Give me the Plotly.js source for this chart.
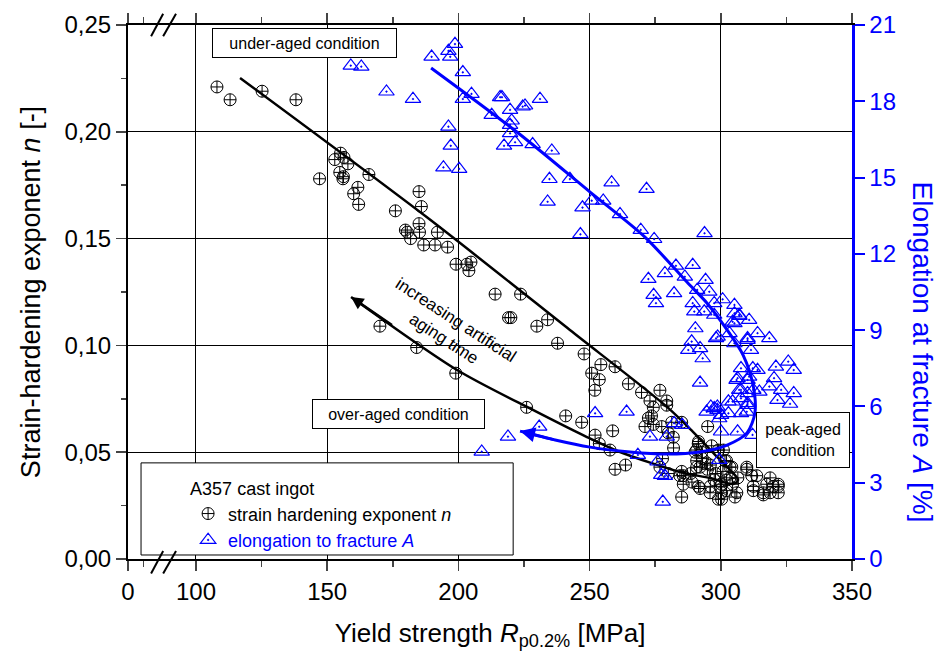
<!DOCTYPE html>
<html><head><meta charset="utf-8">
<script src="https://cdn.plot.ly/plotly-3.0.1.min.js"></script>
<style>html,body{margin:0;padding:0;background:#fff}#chart{width:943px;height:662px}</style>
</head><body><div id="chart"></div>
<script>
// strain hardening exponent n vs yield strength
const nX=[108.0,113.0,125.2,138.1,147.1,155.1,152.9,156.4,157.9,154.8,156.0,156.2,165.9,161.7,160.1,162.0,176.0,185.0,185.9,185.0,179.8,180.5,181.8,185.2,186.8,191.1,195.9,192.0,199.1,203.2,204.8,204.0,214.0,223.7,219.1,220.0,229.9,234.0,237.8,247.9,254.3,259.7,250.8,253.7,252.0,170.1,184.1,199.0,226.0,240.9,247.0,252.1,253.7,258.8,257.8,259.7,264.8,269.8,276.8,273.0,274.3,279.4,273.6,272.4,271.1,274.3,277.5,280.0,282.0,277.8,276.8,280.0,285.1,285.7,285.7,285.1,263.7,281.9,291.4,295.0,292.7,290.8,292.1,295.9,294.9,279.4,281.3,285.1,291.5,290.8,290.8,294.6,292.1,284.4,300.3,300.3,300.3,302.2,303.5,304.2,302.2,301.0,299.1,296.5,306.1,309.9,311.8,312.4,313.7,316.2,318.8,320.0,321.9,321.9,318.8,290.2,291.5,296.0,299.8,299.1,305.4,302.2,303.5,301.6,309.9,312.4,317.5,321.9,316.2,298.0,304.5,297.5,306.5,300.8,288.5,289.0,293.0,296.0];
const nY=[0.221,0.215,0.219,0.215,0.178,0.190,0.187,0.188,0.185,0.181,0.178,0.179,0.180,0.174,0.171,0.166,0.163,0.172,0.165,0.157,0.154,0.153,0.150,0.153,0.147,0.147,0.146,0.153,0.138,0.138,0.139,0.135,0.124,0.124,0.113,0.113,0.109,0.112,0.101,0.096,0.091,0.090,0.087,0.084,0.079,0.109,0.099,0.087,0.071,0.067,0.064,0.058,0.054,0.060,0.051,0.042,0.082,0.078,0.079,0.074,0.071,0.074,0.067,0.066,0.062,0.063,0.062,0.059,0.052,0.047,0.043,0.040,0.041,0.039,0.035,0.029,0.044,0.057,0.054,0.062,0.050,0.043,0.033,0.031,0.042,0.072,0.064,0.064,0.055,0.051,0.046,0.045,0.043,0.039,0.035,0.031,0.028,0.032,0.038,0.043,0.046,0.051,0.051,0.053,0.031,0.043,0.039,0.032,0.039,0.031,0.038,0.034,0.034,0.031,0.031,0.050,0.034,0.034,0.034,0.028,0.029,0.037,0.043,0.046,0.042,0.034,0.035,0.035,0.030,0.040,0.035,0.037,0.038,0.041,0.040,0.036,0.047,0.044];
// elongation at fracture A vs yield strength
const aX=[159.0,163.0,172.6,182.7,189.8,196.2,198.7,196.9,201.7,205.0,201.7,215.9,216.6,225.4,224.5,231.1,219.7,212.7,219.7,220.3,219.7,217.4,221.6,228.3,235.6,196.2,197.1,194.3,200.3,234.7,242.5,234.0,247.3,250.8,255.2,258.4,271.7,261.6,246.5,269.5,274.6,272.4,278.7,282.9,289.3,286.3,293.8,294.2,291.0,282.2,295.6,274.4,275.3,289.3,300.7,305.2,289.9,293.7,297.5,297.5,307.0,310.8,305.2,290.3,298.8,303.3,310.2,314.0,318.5,288.9,287.6,292.1,293.1,311.5,307.7,310.8,306.4,314.0,321.0,325.7,327.8,320.3,318.5,323.0,327.8,321.6,326.4,292.1,307.7,310.2,314.7,304.5,296.2,298.7,310.2,304.5,305.2,307.1,298.2,310.2,305.2,307.0,312.4,298.7,294.6,302.9,309.9,306.0,310.2,302.9,307.7,310.2,297.5,300.1,307.7,264.1,282.2,285.3,273.0,279.4,300.1,306.4,312.1,299.4,268.4,277.3,277.9,252.1,230.8,218.9,208.9,275.9,278.7,299.4,312.2];
const aY=[19.40,19.36,18.38,18.09,19.75,19.98,20.25,19.75,19.14,18.29,18.09,18.16,18.16,17.83,17.79,18.09,17.66,17.46,17.07,17.24,16.74,16.25,16.39,16.31,16.06,17.00,16.25,15.40,15.34,14.94,14.94,14.05,13.82,14.09,14.09,14.81,14.55,13.56,12.77,12.94,12.58,11.01,11.24,11.53,11.56,11.10,12.81,10.97,10.58,10.45,10.51,10.38,10.06,10.06,10.21,9.99,9.73,9.73,10.06,9.60,9.60,9.40,9.27,9.07,8.74,8.88,8.68,8.88,8.68,8.55,8.22,8.29,7.89,8.22,7.50,7.17,7.11,7.43,7.56,7.76,7.43,7.11,6.78,6.65,6.52,6.25,6.10,6.93,6.65,6.52,6.58,6.19,5.99,5.99,6.06,9.33,9.66,9.56,8.68,8.61,8.48,6.65,6.65,5.86,5.79,5.73,5.79,7.04,7.04,6.19,6.32,6.13,5.93,5.66,5.73,5.79,5.34,5.27,4.81,4.81,5.01,5.01,4.88,3.89,4.09,3.30,2.25,5.73,5.20,4.81,4.22,3.83,3.26,5.53,7.50];
// trend curves
const fitNx=[116.8,188.4,242.5,279.5,289.4,298.6,304.3,306.6,304.7,295.9,284.5,261.6,249.0,228.4,199.5,159.1];
const fitNy=[0.2252,0.1596,0.1072,0.0712,0.0595,0.0478,0.0407,0.0370,0.0351,0.0379,0.0407,0.0501,0.0571,0.0698,0.0885,0.1227];
const fitAx=[189.6,222.3,250.2,271.1,287.1,294.7,302.4,308.5,312.3,313.0,310.0,302.4,292.1,279.5,265.4,250.2,236.9,223.5];
const fitAy=[19.31,16.79,14.43,12.66,10.89,10.07,9.01,8.02,6.84,5.74,4.96,4.48,4.21,4.13,4.21,4.40,4.68,5.03];
// ticks
const xTickVals=[74.1,100,150,200,250,300,350];
const xTickText=['0','100','150','200','250','300','350'];
const xMinorVals=[80,125,175,225,275,325];
const xRange=[74.1,350];
const nRange=[0,0.25];
const aRange=[0,21];

const FONT='"Liberation Sans", Arial, sans-serif';
const BLUE='#0000ff';

const traces=[
 {x:nX,y:nY,type:'scatter',mode:'markers',name:'strain hardening exponent <i>n</i>',
  marker:{symbol:'circle-cross-open',size:12,color:'#000',line:{width:1,color:'#000'}}},
 {x:aX,y:aY,yaxis:'y2',type:'scatter',mode:'markers',name:'<span style="color:#0000ff">elongation to fracture <i>A</i></span>',
  marker:{symbol:'triangle-up-open-dot',size:13.5,color:BLUE,line:{width:1.2,color:BLUE}}},
 {x:fitNx,y:fitNy,type:'scatter',mode:'lines',showlegend:false,line:{color:'#000',width:2.5,shape:'spline',smoothing:0.8}},
 {x:fitAx,y:fitAy,yaxis:'y2',type:'scatter',mode:'lines',showlegend:false,line:{color:BLUE,width:3,shape:'spline',smoothing:0.8}}
];

const nL=fitNx.length, aL=fitAx.length;
const breakLines=[];
[[82.9,87.5],[87.5,92.4]].forEach(function(s){
  breakLines.push({type:'line',xref:'x',yref:'paper',x0:s[0],x1:s[1],y0:0.979,y1:1.021,line:{color:'#000',width:2}});
  breakLines.push({type:'line',xref:'x',yref:'paper',x0:s[0],x1:s[1],y0:-0.027,y1:0.015,line:{color:'#000',width:2}});
});

const layout={
 width:943,height:662,
 margin:{l:128,r:91,t:25,b:103,pad:0},
 paper_bgcolor:'#fff',plot_bgcolor:'#fff',
 font:{family:FONT,color:'#000',size:18},
 separators:',.',
 showlegend:true,
 legend:{x:0.083,y:0.163,xanchor:'left',yanchor:'top',bgcolor:'rgba(0,0,0,0)',borderwidth:0,
   font:{size:18,family:FONT},title:{text:'A357 cast ingot',font:{size:18,family:FONT}},tracegroupgap:0,itemsizing:'trace'},
 xaxis:{range:xRange,tickmode:'array',tickvals:xTickVals,ticktext:xTickText,ticks:'outside',ticklen:10,tickwidth:1.5,
   showline:true,linewidth:2,linecolor:'#000',mirror:'ticks',showgrid:true,gridcolor:'#000',gridwidth:1,zeroline:false,
   tickfont:{size:24},
   minor:{tickmode:'array',tickvals:xMinorVals,ticks:'outside',ticklen:6,tickwidth:1.5,showgrid:false},
   title:{text:'Yield strength <i>R</i><sub>p0.2%</sub> [MPa]',font:{size:26},standoff:20}},
 yaxis:{range:nRange,tickmode:'linear',tick0:0,dtick:0.05,tickformat:'.2f',ticks:'outside',ticklen:10,tickwidth:1.5,
   showline:true,linewidth:2,linecolor:'#000',mirror:false,showgrid:true,gridcolor:'#000',gridwidth:1,zeroline:false,
   tickfont:{size:24},
   minor:{dtick:0.025,ticks:'outside',ticklen:5,tickwidth:1.5,showgrid:false},
   title:{text:'Strain-hardening exponent <i>n</i> [-]',font:{size:27},standoff:16}},
 yaxis2:{range:aRange,overlaying:'y',side:'right',tickmode:'linear',tick0:0,dtick:3,ticks:'outside',ticklen:10,tickwidth:2,
   tickcolor:BLUE,showline:true,linewidth:2.5,linecolor:BLUE,showgrid:false,zeroline:false,
   tickfont:{size:24,color:BLUE}},
 shapes:[
   {type:'rect',xref:'paper',yref:'paper',x0:0.018,x1:0.532,y0:0.0075,y1:0.18,fillcolor:'#fff',line:{color:'#000',width:1},layer:'above'}
 ].concat(breakLines),
 annotations:[
   {xref:'x',yref:'y',x:141.5,y:0.2416,text:'under-aged condition',showarrow:false,bgcolor:'#fff',bordercolor:'#000',borderwidth:1,width:181,height:26,font:{size:16}},
   {xref:'x',yref:'y',x:177.2,y:0.0679,text:'over-aged condition',showarrow:false,bgcolor:'#fff',bordercolor:'#000',borderwidth:1,width:169,height:26,font:{size:16}},
   {xref:'x',yref:'y',x:331.3,y:0.0557,text:'peak-aged<br>condition',showarrow:false,bgcolor:'#fff',bordercolor:'#000',borderwidth:1,width:90,height:52,font:{size:16}},
   {xref:'x',yref:'y',x:196.8,y:0.1075,text:'increasing artificial<br>aging time',showarrow:false,textangle:33,font:{size:17}},
   {xref:'x',yref:'y',axref:'x',ayref:'y',x:fitNx[nL-1],y:fitNy[nL-1],ax:fitNx[nL-2]+(fitNx[nL-1]-fitNx[nL-2])*0.6,ay:fitNy[nL-2]+(fitNy[nL-1]-fitNy[nL-2])*0.6,
    text:'',showarrow:true,arrowhead:2,arrowsize:1,arrowwidth:2.5,arrowcolor:'#000',standoff:0,startstandoff:0},
   {xref:'x',yref:'y2',axref:'x',ayref:'y2',x:fitAx[aL-1],y:fitAy[aL-1],ax:fitAx[aL-2],ay:fitAy[aL-2],
    text:'',showarrow:true,arrowhead:2,arrowsize:1,arrowwidth:3,arrowcolor:BLUE,standoff:0,startstandoff:0},
   {xref:'paper',yref:'paper',x:1.097,y:0.388,xanchor:'center',yanchor:'middle',text:'Elongation at fracture <i>A</i> [%]',showarrow:false,textangle:90,font:{size:28,color:BLUE}}
 ]
};
Plotly.newPlot('chart',traces,layout,{displayModeBar:false,staticPlot:true});
</script></body></html>
